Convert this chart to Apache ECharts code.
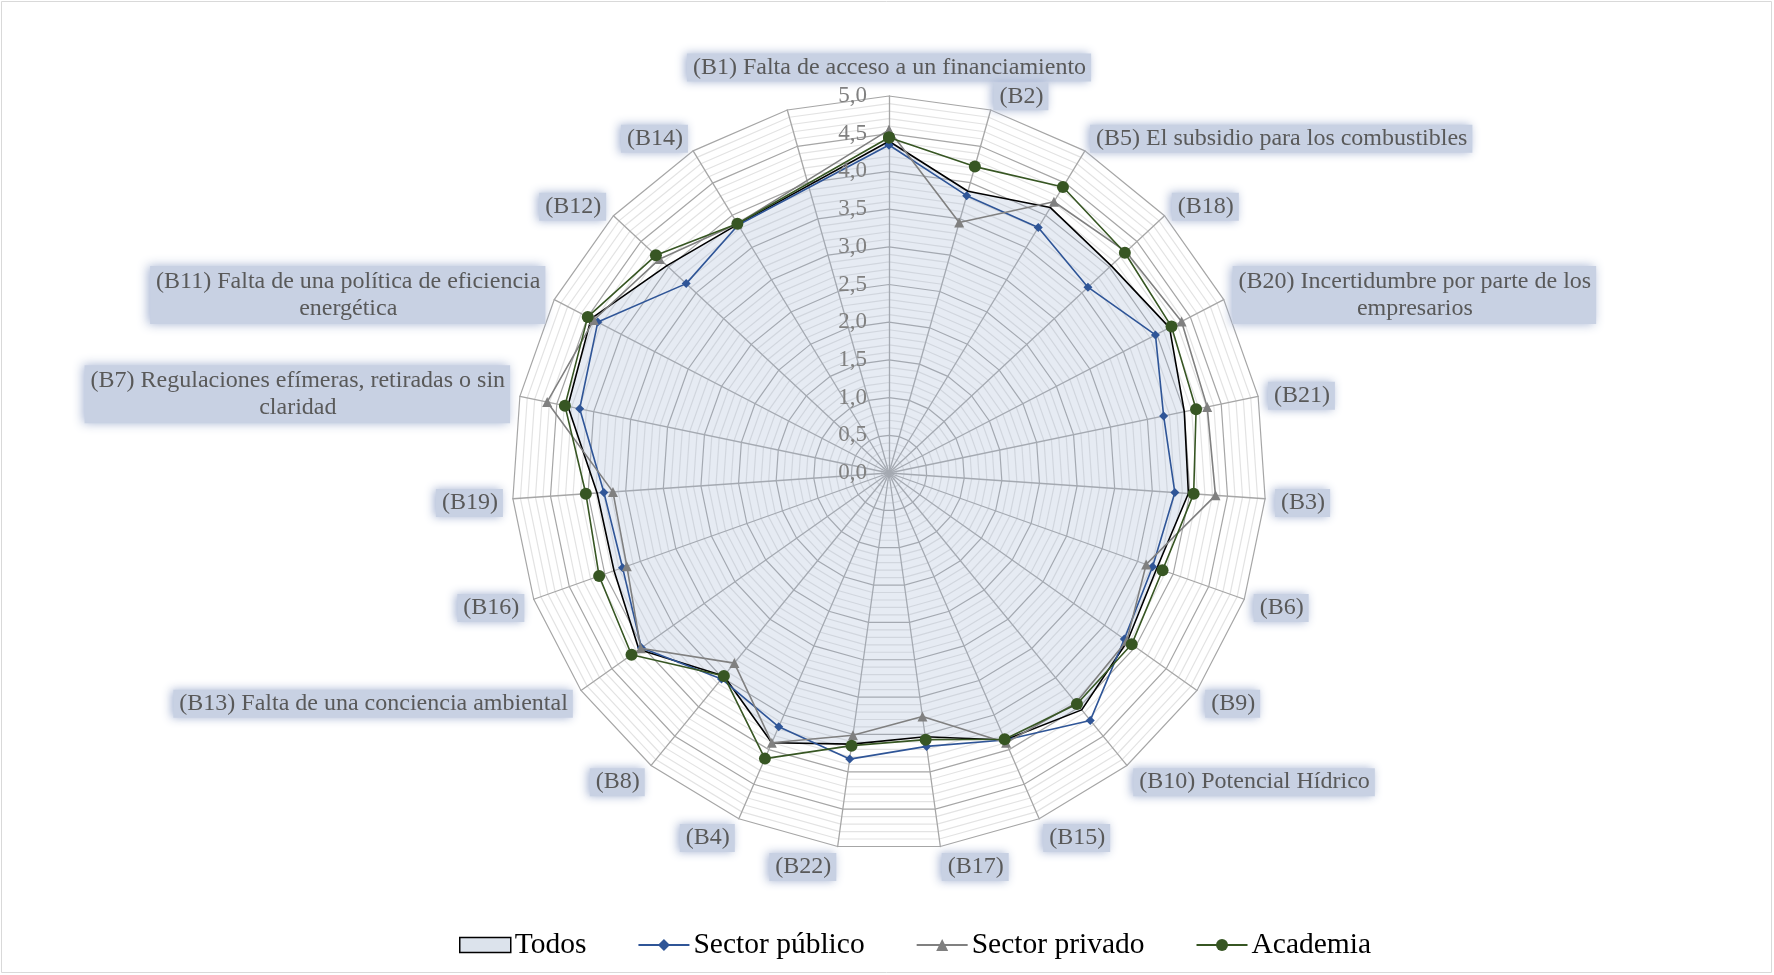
<!DOCTYPE html>
<html>
<head>
<meta charset="utf-8">
<title>Barreras</title>
<script src="https://cdn.jsdelivr.net/npm/echarts@6/dist/echarts.min.js"></script>
<style>
  html, body { margin: 0; padding: 0; background: #ffffff; }
  #chart { width: 1774px; height: 975px; }
</style>
</head>
<body>
<div id="chart"></div>
<script>
// Barrier categories, clockwise from the top; the last spoke carries no barrier
const categories = [
  '(B1) Falta de acceso a un financiamiento',
  '(B2)',
  '(B5) El subsidio para los combustibles',
  '(B18)',
  '(B20) Incertidumbre por parte de los\nempresarios',
  '(B21)',
  '(B3)',
  '(B6)',
  '(B9)',
  '(B10) Potencial Hídrico',
  '(B15)',
  '(B17)',
  '(B22)',
  '(B4)',
  '(B8)',
  '(B13) Falta de una conciencia ambiental',
  '(B16)',
  '(B19)',
  '(B7) Regulaciones efímeras, retiradas o sin\nclaridad',
  '(B11) Falta de una política de eficiencia\nenergética',
  '(B12)',
  '(B14)',
  ''
];

// Mean score per barrier and group (null = no value on that spoke)
const todos    = [4.40, 3.88, 4.12, 4.03, 4.19, 4.00, 3.98, 3.77, 3.87, 4.05, 3.86, 3.53, 3.63, 3.90, 3.47, 4.06, 3.87, 3.88, 4.35, 4.45, 4.03, 3.86, null];
const publico  = [4.35, 3.82, 3.81, 3.61, 3.98, 3.72, 3.80, 3.71, 3.82, 4.23, 3.86, 3.66, 3.83, 3.67, 3.52, 4.02, 3.75, 3.79, 4.19, 4.35, 3.68, 3.85, null];
const privado  = [4.55, 3.45, 4.21, 4.30, 4.37, 4.31, 4.34, 3.62, 3.86, 3.93, 3.90, 3.26, 3.51, 3.90, 3.25, 4.03, 3.69, 3.67, 4.63, 4.41, 4.16, 3.87, null];
const academia = [4.45, 4.22, 4.44, 4.28, 4.22, 4.16, 4.05, 3.85, 3.94, 3.95, 3.85, 3.57, 3.65, 4.13, 3.47, 4.18, 4.08, 4.03, 4.39, 4.50, 4.23, 3.87, null];

// Scale
const scaleMin = 0;
const scaleMax = 5;
const labelStep = 0.5;
const minorStep = 0.1;

const seriesNames = ['Todos', 'Sector público', 'Sector privado', 'Academia'];

const n = categories.length;
const CENTER = [889, 473];
const RADIUS = 377;
const FONT = '"Liberation Serif", "Times New Roman", serif';
const NAME_SIZE = 24;
const nameColor = '#595959';

// Label box look (soft blue-grey tag)
const BOX = {
  backgroundColor: '#c8d1e3',
  padding: [2, 5, 2, 6],
  shadowBlur: 10,
  shadowColor: 'rgba(160,175,208,0.95)',
  shadowOffsetX: -2
};

// Polar points [radius, spokeIndex]; the loop is closed by repeating the first spoke at n
function toPolar(values) {
  const pts = values.map((v, i) => [v === null ? '-' : v, i]);
  pts.push([values[0], n]);
  return pts;
}

// Vertical nudge for the spoke names: labels sit a little further out above and below the web
const nameShift = {};
categories.forEach((c, i) => {
  const phi = i * 2 * Math.PI / n;
  if (!c || c.indexOf('\n') >= 0) { nameShift[c] = { dy: 0, vertical: false }; return; }
  nameShift[c] = { dy: 3 - 7.5 * Math.cos(phi), vertical: i === 0 };
});

// Rich styles: spacer lines of different heights, the tagged one-line name, and plain two-line names
const rich = {
  a: Object.assign({ fontFamily: FONT, fontSize: NAME_SIZE, color: nameColor, lineHeight: 27 }, BOX),
  p: { fontFamily: FONT, fontSize: NAME_SIZE, color: nameColor, lineHeight: 27 },
  q: { fontFamily: FONT, fontSize: NAME_SIZE, color: nameColor, lineHeight: 27, align: 'center' }
};
for (let h = 1; h <= 30; h++) rich['s' + h] = { fontSize: 1, lineHeight: h };

function formatName(name) {
  if (!name) return '';
  const lines = name.split('\n');
  if (lines.length > 1) {
    return lines.map((l, i) => (i === 0 ? '{p|' + l + '}' : '{q|' + l + '}')).join('\n');
  }
  const tok = '{a|' + name + '}';
  const s = nameShift[name];
  if (!s) return tok;
  const h = Math.round(Math.abs(s.dy) * (s.vertical ? 1 : 2));
  if (h < 1) return tok;
  return s.dy > 0 ? '{s' + h + '| }\n' + tok : tok + '\n{s' + h + '| }';
}

// The radar component lays spokes out counter-clockwise, so feed it in reverse
const radarOrder = [categories[0]].concat(categories.slice(1).reverse());

const chart = echarts.init(document.getElementById('chart'), null, { renderer: 'canvas' });

const option = {
  animation: false,
  backgroundColor: '#ffffff',
  graphic: [{
    type: 'rect',
    shape: { x: 1.5, y: 1.5, width: 1770, height: 971 },
    style: { fill: 'none', stroke: '#d9d9d9', lineWidth: 1 },
    silent: true, z: -1
  }],
  radar: {
    center: CENTER,
    radius: RADIUS,
    startAngle: 90,
    shape: 'polygon',
    splitNumber: Math.round((scaleMax - scaleMin) / minorStep),
    indicator: radarOrder.map(name => {
      const ind = { name: name, min: scaleMin, max: scaleMax };
      if (name.indexOf('\n') >= 0) ind.nameTextStyle = Object.assign({}, BOX);
      return ind;
    }),
    axisNameGap: 10,
    axisName: {
      color: nameColor,
      fontFamily: FONT,
      fontSize: NAME_SIZE,
      formatter: formatName,
      rich: rich
    },
    axisLine: { show: true, lineStyle: { color: '#a6a6a6', width: 1.3 } },
    axisTick: { show: false },
    axisLabel: { show: false },
    splitArea: { show: false },
    splitLine: {
      show: true,
      lineStyle: {
        color: ['#a6a6a6', '#e3e3e3', '#e3e3e3', '#e3e3e3', '#e3e3e3'],
        width: 1.2
      }
    }
  },
  polar: { center: CENTER, radius: RADIUS },
  angleAxis: {
    type: 'value', min: 0, max: n, startAngle: 90, clockwise: true,
    show: false
  },
  radiusAxis: {
    type: 'value', min: scaleMin, max: scaleMax, interval: labelStep,
    axisLine: { show: false },
    axisTick: { show: false },
    splitLine: { show: false },
    axisLabel: {
      show: true,
      margin: 22,
      color: '#808080',
      fontFamily: FONT,
      fontSize: 23,
      formatter: v => v.toFixed(1).replace('.', ',')
    },
    z: 10
  },
  legend: {
    bottom: 10,
    left: 454,
    itemWidth: 51,
    itemHeight: 15,
    itemGap: 51,
    textStyle: { fontFamily: FONT, fontSize: 29.5, color: '#000000', padding: [0, 0, 0, -1] },
    data: [
      { name: seriesNames[0], icon: 'rect', itemStyle: { color: '#dce3ec', borderColor: '#000000', borderWidth: 1.5 } },
      { name: seriesNames[1] },
      { name: seriesNames[2] },
      { name: seriesNames[3] }
    ]
  },
  series: [
    {
      name: seriesNames[0], type: 'line', coordinateSystem: 'polar',
      data: toPolar(todos), connectNulls: true, showSymbol: false, symbol: 'none',
      lineStyle: { color: '#000000', width: 1.6 },
      itemStyle: { color: '#000000' },
      areaStyle: { color: 'rgba(160,180,210,0.38)' },
      z: 2
    },
    {
      name: seriesNames[1], type: 'line', coordinateSystem: 'polar',
      data: toPolar(publico), connectNulls: true,
      symbol: 'diamond', symbolSize: 9,
      lineStyle: { color: '#2f5597', width: 1.6 },
      itemStyle: { color: '#2f5597' },
      z: 3
    },
    {
      name: seriesNames[2], type: 'line', coordinateSystem: 'polar',
      data: toPolar(privado), connectNulls: true,
      symbol: 'triangle', symbolSize: 10,
      lineStyle: { color: '#808080', width: 1.6 },
      itemStyle: { color: '#808080' },
      z: 4
    },
    {
      name: seriesNames[3], type: 'line', coordinateSystem: 'polar',
      data: toPolar(academia), connectNulls: true,
      symbol: 'circle', symbolSize: 12,
      lineStyle: { color: '#375623', width: 1.6 },
      itemStyle: { color: '#375623' },
      z: 5
    }
  ]
};

chart.setOption(option);
</script>
</body>
</html>
